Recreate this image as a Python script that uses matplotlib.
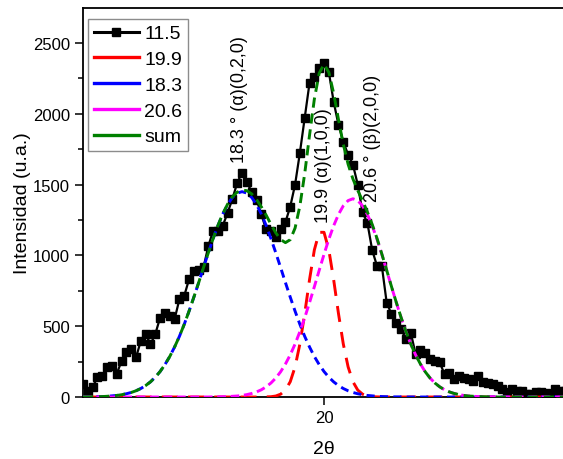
import numpy as np
import matplotlib
matplotlib.use('Agg')
import matplotlib.pyplot as plt
from matplotlib.lines import Line2D
from matplotlib.ticker import MultipleLocator

plt.rcParams['font.family'] = ['Liberation Sans', 'DejaVu Sans']

# 2theta grid, 0.1 deg steps
two_theta = np.linspace(15.0, 25.0, 101)

# measured pattern (black squares)
intensity = [92, 45, 70, 139, 150, 209, 221, 162, 256, 315,
             338, 279, 397, 444, 373, 444, 561, 596, 573, 549,
             690, 714, 831, 890, 900, 915, 1065, 1175, 1170, 1210,
             1300, 1400, 1512, 1585, 1515, 1450, 1394, 1289, 1183, 1169,
             1127, 1183, 1235, 1345, 1500, 1725, 1972, 2218, 2261, 2324,
             2359, 2296, 2085, 1923, 1803, 1711, 1641, 1500, 1303, 1230,
             1037, 925, 925, 667, 585, 526, 480, 408, 455, 303,
             330, 314, 268, 256, 244, 162, 170, 127, 150, 135,
             127, 115, 150, 103, 100, 92, 80, 60, 33, 56,
             44, 44, 21, 21, 33, 33, 25, 21, 56, 44, 40]

# fitted peaks
peak_199 = ([0] * 38 + [1, 2,
            7, 20, 49, 108, 213, 375, 590, 829, 1039, 1163,
            1163, 1039, 829, 590, 375, 213, 108, 49, 20, 7,
            2, 1] + [0] * 39)
peak_183 = ([1, 1, 1, 2, 3, 5, 8, 11, 16, 23,
             32, 44, 60, 81, 107, 140, 180, 229, 286, 353,
             428, 513, 606, 705, 808, 914, 1018, 1118, 1211, 1292,
             1359, 1409, 1440, 1450, 1440, 1409, 1359, 1292, 1211, 1118,
             1018, 914, 808, 705, 606, 513, 428, 353, 286, 229,
             180, 140, 107, 81, 60, 44, 32, 23, 16, 11,
             8, 5, 3, 2, 1, 1, 1] + [0] * 34)
peak_206 = ([0] * 27 + [1, 1, 2,
            3, 5, 7, 11, 17, 25, 36, 51, 72, 99,
            134, 178, 233, 298, 374, 462, 560, 667, 779, 894,
            1007, 1114, 1209, 1289, 1350, 1387, 1400, 1387, 1350, 1289,
            1209, 1114, 1007, 894, 779, 667, 560, 462, 374, 298,
            233, 178, 134, 99, 72, 51, 36, 25, 17, 11,
            7, 5, 3, 2, 1, 1] + [0] * 15)
peak_sum = np.array(peak_199) + np.array(peak_183) + np.array(peak_206)

labels = ['11.5', '19.9', '18.3', '20.6', 'sum']
colors = ['black', 'red', 'blue', 'magenta', 'green']

fig = plt.figure(figsize=(5.63, 4.6), dpi=100)
ax = fig.add_axes([83 / 563, 62 / 460, 482 / 563, 389 / 460])

ax.plot(two_theta, intensity, color='black', lw=1.6, marker='s', ms=5.5, zorder=2)
ax.plot(two_theta, peak_199, color='red', lw=2.1, ls=(0, (5.5, 3.5)), zorder=3)
ax.plot(two_theta, peak_183, color='blue', lw=2.1, ls=(0, (2.8, 1.8)), zorder=3)
ax.plot(two_theta, peak_206, color='magenta', lw=2.1, ls=(0, (3, 1.6)), zorder=3)
ax.plot(two_theta, peak_sum, color='green', lw=2.1, ls=(0, (3.5, 2)), zorder=4)

ax.text(18.24, 1660, '18.3 ° (α)(0,2,0)', rotation=90, ha='center', va='bottom', fontsize=13)
ax.text(19.98, 1236, '19.9 (α)(1,0,0)', rotation=90, ha='center', va='bottom', fontsize=13)
ax.text(21.0, 1384, '20.6 ° (β)(2,0,0)', rotation=90, ha='center', va='bottom', fontsize=13)

ax.set_xlim(15, 25)
ax.set_ylim(0, 2747)
ax.set_xticks([20])
ax.yaxis.set_major_locator(MultipleLocator(500))
ax.yaxis.set_minor_locator(MultipleLocator(250))
ax.tick_params(axis='both', which='major', direction='out', length=6, width=1.1, labelsize=12)
ax.tick_params(axis='y', which='minor', direction='out', length=3.5, width=1.1)
ax.spines['right'].set_visible(False)
for s in ['left', 'bottom', 'top']:
    ax.spines[s].set_linewidth(1.3)

ax.set_xlabel('2θ', fontsize=14, labelpad=11)
ax.set_ylabel('Intensidad (u.a.)', fontsize=14, labelpad=1.5)

handles = [Line2D([], [], color='black', lw=2.2, marker='s', ms=6)]
for c in colors[1:]:
    handles.append(Line2D([], [], color=c, lw=2.4))
leg = ax.legend(handles, labels, loc='upper left', bbox_to_anchor=(0.0104, 0.972),
                borderaxespad=0, fontsize=14, frameon=True, fancybox=False,
                handlelength=2.3, handletextpad=0.3, labelspacing=0.42, borderpad=0.3)
leg.get_frame().set_edgecolor('#707070')
leg.get_frame().set_linewidth(1.0)

fig.savefig('out.png', dpi=100)
